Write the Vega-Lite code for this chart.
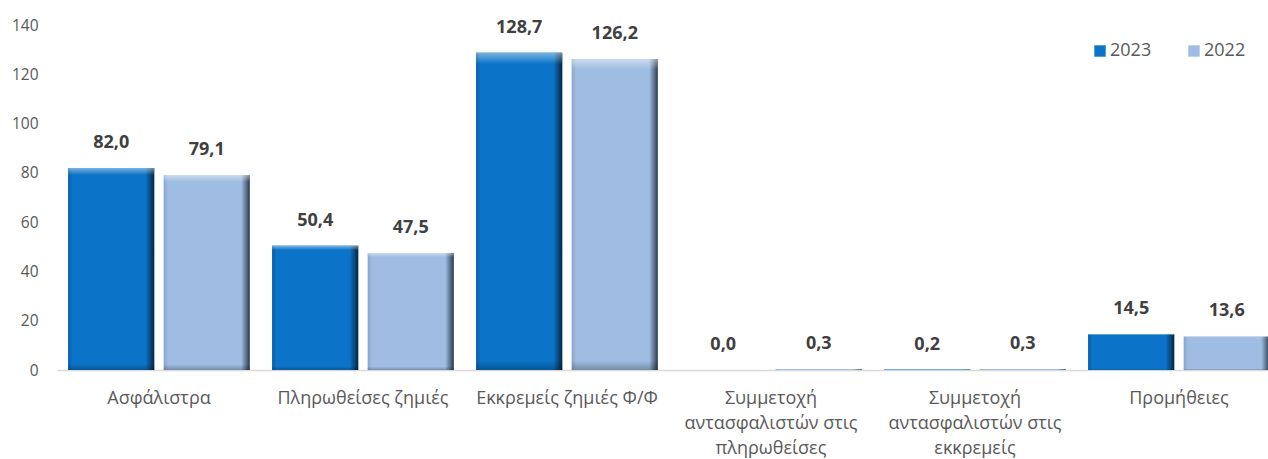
{
  "$schema": "https://vega.github.io/schema/vega-lite/v6.json",
  "autosize": "none",
  "width": 1224,
  "height": 345,
  "padding": {"left": 57, "top": 25, "right": 0, "bottom": 89},
  "background": "white",
  "config": {
    "view": {"stroke": null},
    "locale": {"number": {"decimal": ",", "thousands": ".", "grouping": [3], "currency": ["", " €"]}},
    "font": "Open Sans"
  },
  "data": {
    "values": [
      {"category": "Ασφάλιστρα", "year": "2023", "value": 82.0},
      {"category": "Ασφάλιστρα", "year": "2022", "value": 79.1},
      {"category": "Πληρωθείσες ζημιές", "year": "2023", "value": 50.4},
      {"category": "Πληρωθείσες ζημιές", "year": "2022", "value": 47.5},
      {"category": "Εκκρεμείς ζημιές Φ/Φ", "year": "2023", "value": 128.7},
      {"category": "Εκκρεμείς ζημιές Φ/Φ", "year": "2022", "value": 126.2},
      {"category": "Συμμετοχή|αντασφαλιστών στις|πληρωθείσες", "year": "2023", "value": 0.0},
      {"category": "Συμμετοχή|αντασφαλιστών στις|πληρωθείσες", "year": "2022", "value": 0.3},
      {"category": "Συμμετοχή|αντασφαλιστών στις|εκκρεμείς", "year": "2023", "value": 0.2},
      {"category": "Συμμετοχή|αντασφαλιστών στις|εκκρεμείς", "year": "2022", "value": 0.3},
      {"category": "Προμήθειες", "year": "2023", "value": 14.5},
      {"category": "Προμήθειες", "year": "2022", "value": 13.6}
    ]
  },
  "encoding": {
    "x": {
      "field": "category", "type": "nominal", "sort": null,
      "scale": {"paddingInner": 0.11, "paddingOuter": 0.055},
      "axis": {
        "title": null, "labelAngle": 0, "ticks": false, "tickSize": 0,
        "domainColor": "#d9d9d9", "domainWidth": 1.5,
        "labelExpr": "split(datum.label, '|')",
        "labelFontSize": 18, "labelColor": "#595959", "labelLineHeight": 25,
        "labelPadding": 19, "labelLimit": 300, "labelFont": "Open Sans"
      }
    },
    "xOffset": {"field": "year", "type": "nominal", "sort": ["2023", "2022"], "scale": {"domain": ["2023", "2022"], "paddingInner": 0.1, "paddingOuter": 0}},
    "y": {
      "field": "value", "type": "quantitative",
      "scale": {"domain": [0, 140], "nice": false},
      "axis": {
        "title": null, "values": [0, 20, 40, 60, 80, 100, 120, 140],
        "grid": false, "domain": false, "ticks": false, "tickSize": 0,
        "labelPadding": 19, "labelFontSize": 15.5, "labelColor": "#595959", "labelFont": "Open Sans"
      }
    }
  },
  "layer": [
    {
      "mark": {"type": "bar"},
      "encoding": {
        "color": {
          "field": "year", "type": "nominal", "sort": ["2023", "2022"],
          "scale": {"domain": ["2023", "2022"], "range": ["#0b74c8", "#9fbde3"]},
          "legend": {
            "title": null, "orient": "none", "direction": "horizontal",
            "legendX": 1034, "legendY": 17, "symbolType": "square", "symbolSize": 130,
            "labelFontSize": 18, "labelColor": "#595959", "labelFont": "Open Sans",
            "columnPadding": 33, "labelOffset": 1, "symbolStrokeWidth": 0
          }
        }
      }
    },
    {
      "transform": [{"filter": "datum.year == '2023'"}],
      "mark": {"type": "bar", "color": {"gradient": "linear", "x1": 0, "y1": 0, "x2": 1, "y2": 0, "stops": [
        {"offset": 0, "color": "#0a5ea8"}, {"offset": 0.05, "color": "#0b74c8"},
        {"offset": 0.9, "color": "#0b74c8"}, {"offset": 1, "color": "#092540"}]}},
      "encoding": {}
    },
    {
      "transform": [{"filter": "datum.year == '2022'"}],
      "mark": {"type": "bar", "color": {"gradient": "linear", "x1": 0, "y1": 0, "x2": 1, "y2": 0, "stops": [
        {"offset": 0, "color": "#89a5cb"}, {"offset": 0.05, "color": "#9fbde3"},
        {"offset": 0.9, "color": "#9fbde3"}, {"offset": 1, "color": "#2c3a4c"}]}},
      "encoding": {}
    },
    {
      "mark": {"type": "bar", "color": {"gradient": "linear", "x1": 0, "y1": 0, "x2": 0, "y2": 1, "stops": [
        {"offset": 0, "color": "rgba(255,255,255,0.45)"}, {"offset": 0.035, "color": "rgba(255,255,255,0)"},
        {"offset": 0.97, "color": "rgba(0,0,0,0)"}, {"offset": 1, "color": "rgba(0,0,0,0.25)"}]}},
      "encoding": {}
    },
    {
      "mark": {"type": "text", "dy": -25, "fontSize": 18, "fontWeight": "bold", "color": "#404040", "font": "Open Sans"},
      "encoding": {
        "text": {"field": "value", "type": "quantitative", "format": ".1f"}
      }
    }
  ]
}
